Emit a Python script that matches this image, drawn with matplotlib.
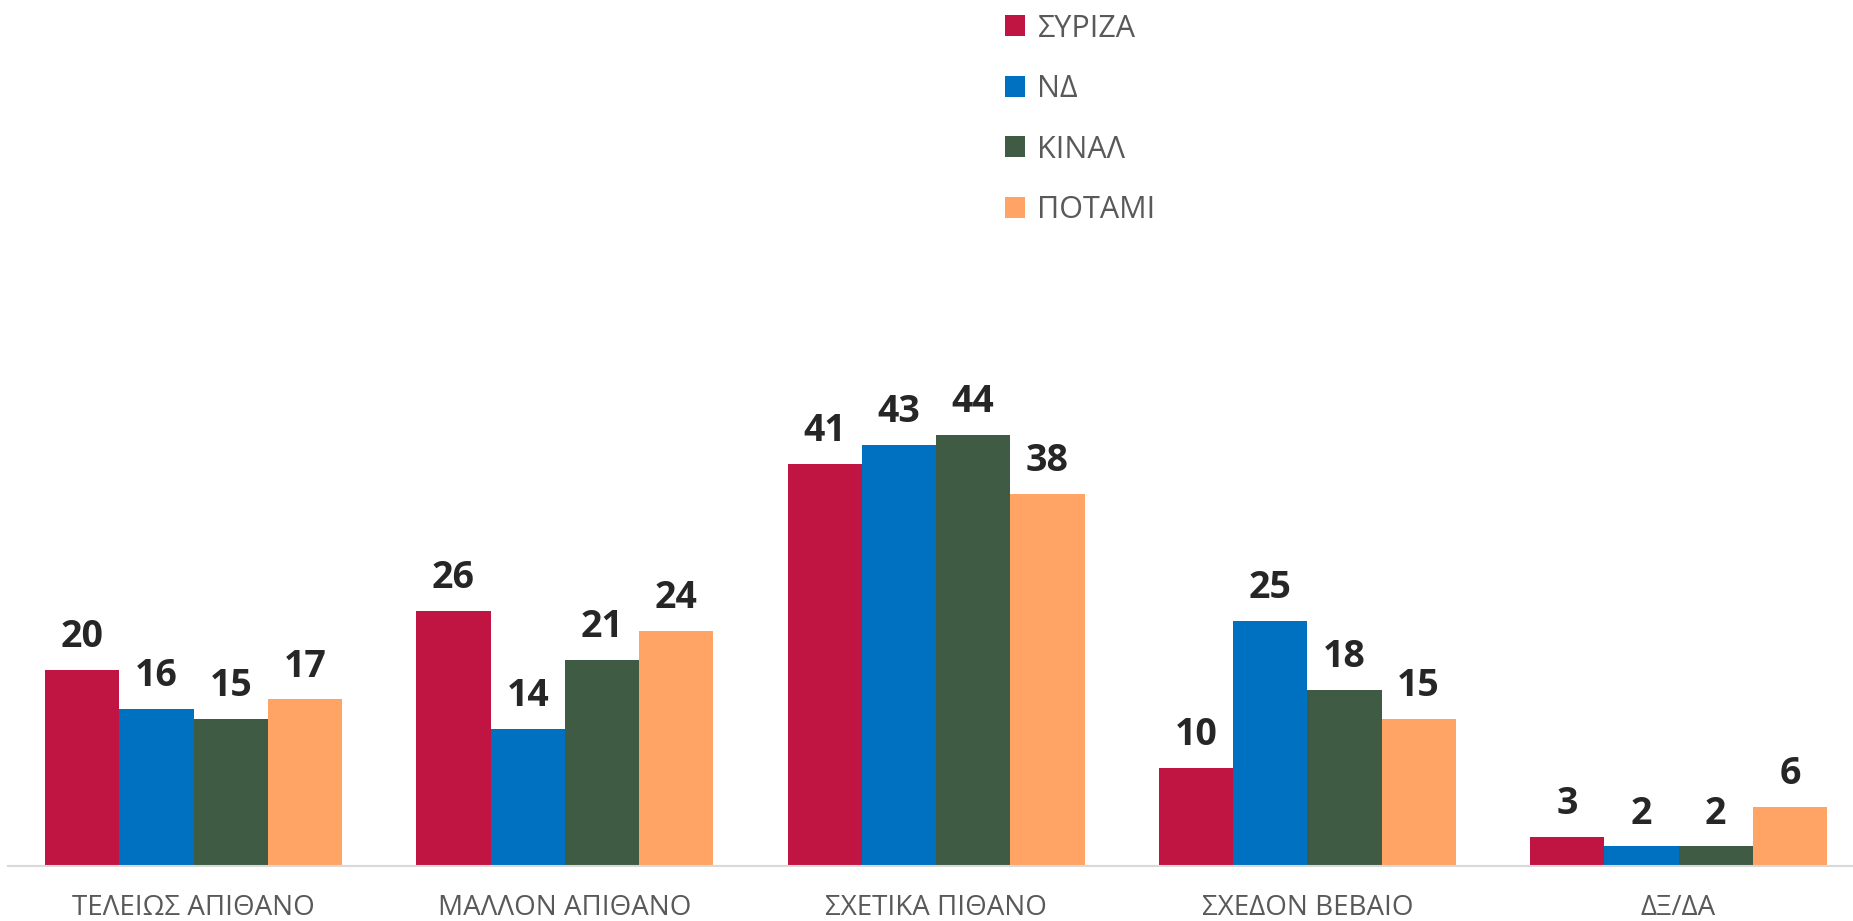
import matplotlib
matplotlib.use('Agg')
import matplotlib.pyplot as plt
import numpy as np

plt.rcParams['font.family'] = ['Open Sans', 'DejaVu Sans']

categories = ['ΤΕΛΕΙΩΣ ΑΠΙΘΑΝΟ', 'ΜΑΛΛΟΝ ΑΠΙΘΑΝΟ', 'ΣΧΕΤΙΚΑ ΠΙΘΑΝΟ', 'ΣΧΕΔΟΝ ΒΕΒΑΙΟ', 'ΔΞ/ΔΑ']
parties = ['ΣΥΡΙΖΑ', 'ΝΔ', 'ΚΙΝΑΛ', 'ΠΟΤΑΜΙ']
syriza = [20, 26, 41, 10, 3]
nd = [16, 14, 43, 25, 2]
kinal = [15, 21, 44, 18, 2]
potami = [17, 24, 38, 15, 6]
colors = ['#C01443', '#0070C0', '#3F5B43', '#FFA465']

W, H = 1853, 921
fig = plt.figure(figsize=(W / 100, H / 100), dpi=100)
# baseline at y=866px, axis line from x=8px
ax = fig.add_axes([8 / W, 55 / H, (W - 8) / W, 866 / H])

x = np.arange(len(categories))
bw = 0.2
series = [syriza, nd, kinal, potami]
for i, (vals, name, c) in enumerate(zip(series, parties, colors)):
    bars = ax.bar(x + (i - 1.5) * bw, vals, bw, color=c, label=name, linewidth=0)
    ax.bar_label(bars, padding=10, fontsize=27, fontweight='bold', color='#262626')

ax.set_xlim(-0.5, 4.47)
ax.set_ylim(0, 88.4)
ax.set_xticks(x)
ax.set_xticklabels(categories, fontsize=20, color='#595959')
ax.tick_params(axis='x', length=0, pad=20)
ax.set_yticks([])
for s in ['top', 'right', 'left']:
    ax.spines[s].set_visible(False)
ax.spines['bottom'].set_color('#D9D9D9')
ax.spines['bottom'].set_linewidth(1.5)

leg = ax.legend(loc='upper left', bbox_to_anchor=(977 / W, 1 + 14 / H), bbox_transform=fig.transFigure,
                frameon=False, fontsize=22, handlelength=0.68, handleheight=0.68, handletextpad=0.4,
                labelspacing=1.0)
for t in leg.get_texts():
    t.set_color('#595959')

fig.savefig('out.png', dpi=100)
